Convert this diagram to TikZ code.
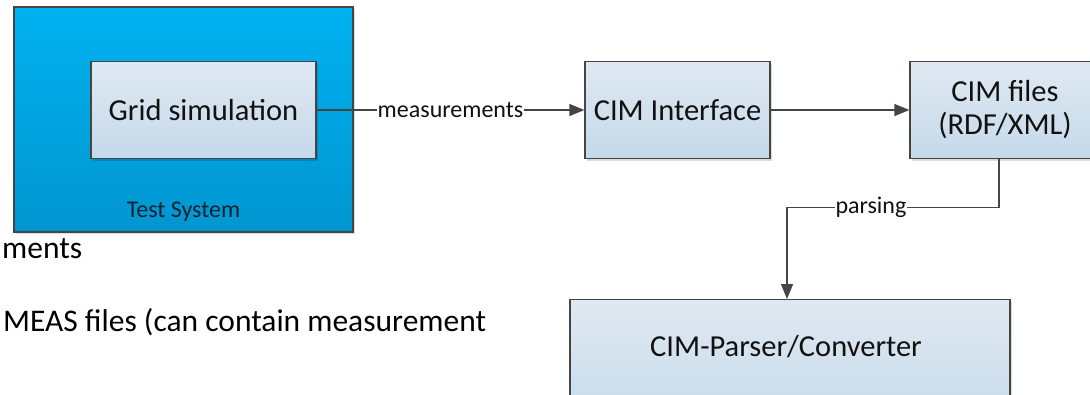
\documentclass[tikz,border=0pt]{standalone}
\usepackage{fontspec}
\setmainfont{Carlito}
\usetikzlibrary{arrows.meta,shadows,calc}

\definecolor{edgegray}{HTML}{454545}
\definecolor{systop}{HTML}{00B2F0}
\definecolor{sysbot}{HTML}{0096D0}
\definecolor{blktop}{HTML}{E0E9F2}
\definecolor{blkbot}{HTML}{C5D9EA}
\definecolor{inktext}{HTML}{111111}
\definecolor{navytext}{HTML}{14222F}

\tikzset{
  boxshadow/.style={drop shadow={shadow xshift=2pt, shadow yshift=-2pt, fill=black, opacity=0.14}},
  sysbox/.style={draw=edgegray, line width=1.3pt, top color=systop, bottom color=sysbot,
    inner sep=0pt, boxshadow},
  blockbox/.style={draw=edgegray, line width=1.3pt, top color=blktop, bottom color=blkbot,
    inner sep=0pt, boxshadow, text=inktext, font=\fontsize{30.5}{33}\selectfont, align=center},
  bigtext/.style={text=inktext, font=\fontsize{30.5}{33}\selectfont, inner sep=0pt},
  freetext/.style={text=black, font=\fontsize{31.5}{36}\selectfont, inner sep=0pt, anchor=base west},
  edgelabel/.style={text=inktext, font=\fontsize{24}{28}\selectfont, fill=white, inner sep=0.6pt},
  flow/.style={draw=edgegray, line width=1.3pt, -{Triangle[length=15pt,width=12pt]}},
}

\begin{document}
\begin{tikzpicture}[x=1pt,y=-1pt]
\useasboundingbox (0,0) rectangle (1090,394);
\clip (0,0) rectangle (1090,394);

% test system with the grid simulation inside
\node[sysbox, minimum width=339pt, minimum height=225pt] (testsys) at (183.5,119.5) {};
\node[text=navytext, font=\fontsize{24}{28}\selectfont, inner sep=0pt, anchor=base]
  (testlbl) at ($(testsys.south)+(0,-15)$) {Test System};
\node[blockbox, minimum width=225pt, minimum height=97pt] (gridsim) at (203.5,110) {Grid simulation};

% processing chain
\node[blockbox, minimum width=185pt, minimum height=97pt] (cimif) at (677.5,110) {CIM Interface};
\node[blockbox, minimum width=190pt, minimum height=97pt] (cimfiles) at (1005,110) {CIM files\\(RDF/XML)};
\node[blockbox, minimum width=440pt, minimum height=130pt, anchor=north] (parser) at (790,299) {};
\node[bigtext] (parsertxt) at ($(parser.north)+(-4,48)$) {CIM-Parser/Converter};

% loose text lines
\node[freetext] (ments) at (2,258) {ments};
\node[freetext] (measfiles) at (3,331) {MEAS files (can contain measurement};

% connectors
\draw[flow] (gridsim.east) -- node[edgelabel] {measurements} (cimif.west);
\draw[flow] (cimif.east) -- (cimfiles.west);
\draw[flow] ($(cimfiles.south)+(-6,0)$) -- ++(0,48) coordinate (pbend)
  -| node[edgelabel, pos=0.302] {parsing} ($(parser.north)+(-3,0)$);
\end{tikzpicture}
\end{document}
